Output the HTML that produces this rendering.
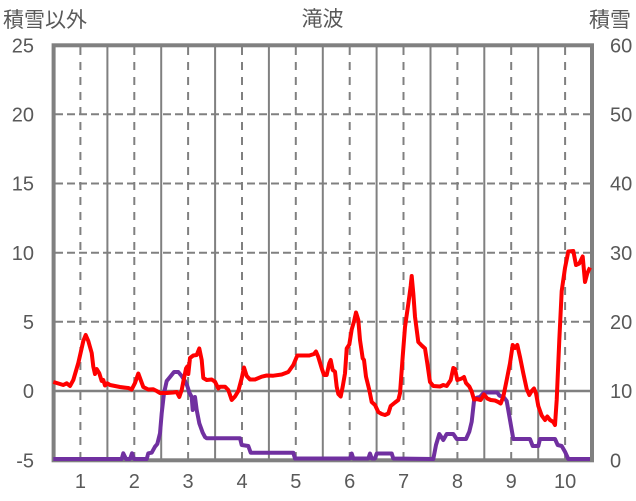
<!DOCTYPE html>
<html><head><meta charset="utf-8"><style>
html,body{margin:0;padding:0;background:#fff;}
svg{display:block;}
text{font-family:"Liberation Sans","Noto Sans CJK JP",sans-serif;fill:#595959;}
</style></head><body>
<svg width="636" height="501" viewBox="0 0 636 501" xmlns="http://www.w3.org/2000/svg">
<rect x="0" y="0" width="636" height="501" fill="#fff"/>
<!-- horizontal dashed grid -->
<g stroke="#808080" stroke-width="2" stroke-dasharray="8,4" fill="none">
<line x1="55" y1="114.3" x2="591" y2="114.3"/>
<line x1="55" y1="183.5" x2="591" y2="183.5"/>
<line x1="55" y1="252.7" x2="591" y2="252.7"/>
<line x1="55" y1="321.8" x2="591" y2="321.8"/>
</g>
<!-- vertical dashed (month centers) -->
<g stroke="#808080" stroke-width="2" stroke-dasharray="8,7" fill="none">
<line x1="80.4" y1="47" x2="80.4" y2="459"/>
<line x1="134.3" y1="47" x2="134.3" y2="459"/>
<line x1="188.1" y1="47" x2="188.1" y2="459"/>
<line x1="242" y1="47" x2="242" y2="459"/>
<line x1="295.8" y1="47" x2="295.8" y2="459"/>
<line x1="349.7" y1="47" x2="349.7" y2="459"/>
<line x1="403.5" y1="47" x2="403.5" y2="459"/>
<line x1="457.4" y1="47" x2="457.4" y2="459"/>
<line x1="511.2" y1="47" x2="511.2" y2="459"/>
<line x1="565.1" y1="47" x2="565.1" y2="459"/>
</g>
<!-- vertical solid (boundaries) -->
<g stroke="#808080" stroke-width="2" fill="none">
<line x1="107.4" y1="47" x2="107.4" y2="459"/>
<line x1="161.2" y1="47" x2="161.2" y2="459"/>
<line x1="215.1" y1="47" x2="215.1" y2="459"/>
<line x1="268.9" y1="47" x2="268.9" y2="459"/>
<line x1="322.8" y1="47" x2="322.8" y2="459"/>
<line x1="376.6" y1="47" x2="376.6" y2="459"/>
<line x1="430.5" y1="47" x2="430.5" y2="459"/>
<line x1="484.3" y1="47" x2="484.3" y2="459"/>
<line x1="538.2" y1="47" x2="538.2" y2="459"/>
<line x1="55" y1="391" x2="591" y2="391" stroke-width="2.5"/>
</g>
<!-- frame -->
<rect x="53.6" y="45.3" width="538.4" height="415" fill="none" stroke="#808080" stroke-width="4"/>
<!-- purple series (snow, right axis) -->
<polyline fill="none" stroke="#7030A0" stroke-width="4" stroke-linejoin="round" points="53.3,459 121.7,459 123.3,453.3 126,459 130,459 132,453.3 134,459 146.7,459 148.3,453.3 151.7,452.7 155,446.7 157.3,444 160,433.3 161.7,413.3 164,393.3 166.7,381 170,377 174,372 178.3,372 181.7,376 185,381 187.3,386 189.3,392.5 191.7,397 192.7,410 195,397 196.7,410 199.3,423.3 202.7,432.7 205,437 206.7,438.3 240,438.3 241.7,445 248.3,446 250.7,452.7 293.3,452.7 295,458.5 350,458.5 351.7,453.5 353.3,458.5 368.3,458.5 370,453.5 371.7,458.5 375,458.5 376.7,453.5 391.7,453.5 393.3,458.5 433.3,459 436,445 439.3,434 443.3,440 446.7,434 453.3,434 456.7,439 466,439 469.3,431.7 471.7,421.7 474,401 476.7,397.7 480,397 484,392.5 497.3,392.5 499.3,395.5 504,397.5 506.7,401 510,420 513.3,439 530,439 532.7,446 538.3,446 540,439 555,439 557.7,445 561.7,446 565,451.7 568.3,459 590,459"/>
<!-- red series -->
<polyline fill="none" stroke="#FF0000" stroke-width="4" stroke-linejoin="round" points="53.3,382 60,384 63.3,385 66.7,383.3 70,386 73.3,380 78.3,363 83.3,341 85.7,335 88.3,341 91.7,353 93.3,366.7 95,374 96.7,369 99.3,373.3 101.7,381 103.3,380 105,385.5 107.3,383.3 110,385 115,386 120,387 128.3,388 131.7,389.5 135,383 138.3,373.5 140.7,380 143.3,387 148.3,389.5 153.3,389.3 156.7,391 160,393 166.7,393 173.3,392.5 176.7,392 179.3,397 181.7,390 183.3,381.7 186,368.5 187.3,366.5 188.3,374 190,358 193.3,355.5 196.7,355 199.3,348.5 201.7,360 203.3,378 206.7,380 211.7,379.5 215,381.7 218.3,388.5 220,386.7 225,386.7 228.3,390 231.7,400 235,396.5 238.3,391 241.7,378.3 244,367.5 246.7,376 250,379.5 255,379.5 261.7,376.7 266.7,375.5 273.3,375.7 281.7,374.5 288.3,372 293.3,365 297.3,355.5 303.3,355.5 309.3,355.5 314,354 316,351.5 318.3,357 321.7,368.3 324,375 326.7,375 329.3,363.3 330.7,360 332.7,370 335,371.7 336.7,386.7 338.3,394 340.7,396.5 342.7,386.7 345,373.3 346.7,348.5 349.3,344.5 351.7,329.5 354,321.5 356,312.5 358.3,320 360,340 362.7,358.3 364,360 366,376.7 369.3,390 371.7,402 375,405 378.3,412 381.7,414 385,415 388.3,413.5 390.7,406 395,402.5 398.3,400 400,393.3 402.7,356.7 405,327 408.3,304 410.7,286 411.7,276 413.3,293.3 415,316.7 418.3,342 421.7,345.5 425,348.5 427.3,363.3 430,382 433.3,386 440,386.5 443.3,385 446.7,386 450.7,380 453.3,368 455,369 457.3,380 461.7,378.5 464,377 466,383 469.3,386.5 471.7,391.5 474,399.5 476.7,399 480.7,400 484,394.5 487.3,398.5 490.7,400 495,400.5 498.3,402 500.7,403.5 503.3,396.7 506.7,380 510,363.3 512.7,345 515,348 517.3,345 520,357 523.3,373.3 526.7,389 529.3,395 531.7,391 534,388.5 536,393.3 538.3,406 541.7,415.5 545,420 547.3,416.5 550,420 553.3,422 555,425 556.7,400 559.3,340 561.7,291 565,268 568.3,251.5 573.3,251 576,265 579.3,263.5 582.7,256.5 585,282 587.3,273.3 590,267.5"/>
<!-- left axis labels -->
<g font-size="20" text-anchor="end">
<text x="34" y="52.5">25</text>
<text x="34" y="121.5">20</text>
<text x="34" y="190.7">15</text>
<text x="34" y="259.9">10</text>
<text x="34" y="329">5</text>
<text x="34" y="398.2">0</text>
<text x="34" y="467.4">-5</text>
</g>
<!-- right axis labels -->
<g font-size="20" text-anchor="start">
<text x="610" y="52.5">60</text>
<text x="610" y="121.5">50</text>
<text x="610" y="190.7">40</text>
<text x="610" y="259.9">30</text>
<text x="610" y="329">20</text>
<text x="610" y="398.2">10</text>
<text x="610" y="467.4">0</text>
</g>
<!-- x axis labels -->
<g font-size="20" text-anchor="middle">
<text x="80.4" y="488">1</text>
<text x="134.3" y="488">2</text>
<text x="188.1" y="488">3</text>
<text x="242" y="488">4</text>
<text x="295.8" y="488">5</text>
<text x="349.7" y="488">6</text>
<text x="403.5" y="488">7</text>
<text x="457.4" y="488">8</text>
<text x="511.2" y="488">9</text>
<text x="565.1" y="488">10</text>
</g>
<!-- titles -->
<text x="3" y="27" font-size="21">積雪以外</text>
<text x="301.5" y="26" font-size="21">滝波</text>
<text x="589" y="27" font-size="21">積雪</text>
</svg>
</body></html>
